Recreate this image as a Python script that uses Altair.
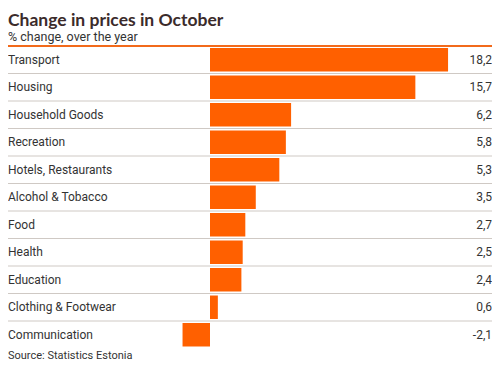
import altair as alt
import pandas as pd

title = "Change in prices in October"
subtitle = "% change, over the year"
source = "Source: Statistics Estonia"
categories = ["Transport", "Housing", "Household Goods", "Recreation",
              "Hotels, Restaurants", "Alcohol & Tobacco", "Food", "Health",
              "Education", "Clothing & Footwear", "Communication"]
values = [18.2, 15.7, 6.2, 5.8, 5.3, 3.5, 2.7, 2.5, 2.4, 0.6, -2.1]

df = pd.DataFrame({"category": categories, "value": values})
sep_df = pd.DataFrame({"category": categories[1:]})

STEP = 27.5
W, H = 484, STEP * len(categories)
TOP = 38
zero_px = 202
px_per_unit = 13.08
xdom = [-zero_px / px_per_unit, (W - zero_px) / px_per_unit]

ORANGE = "#ff6000"
TEXT = "#333333"
TITLE_C = "#3b2b2b"
FONT = "Roboto"

yscale = alt.Scale(domain=categories, paddingInner=0, paddingOuter=0)
xscale = alt.Scale(domain=xdom, nice=False)

base = alt.Chart(df)

seps = alt.Chart(sep_df).mark_rule(color="#cfc9c4", strokeWidth=1).encode(
    y=alt.Y("category:N", scale=yscale, axis=None, bandPosition=0),
    x=alt.value(0), x2=alt.value(W),
)

bars = base.mark_bar(size=23.5, color=ORANGE).encode(
    x=alt.X("value:Q", scale=xscale, axis=None),
    x2=alt.datum(0),
    y=alt.Y("category:N", scale=yscale, axis=None),
)

top_rule = alt.Chart(pd.DataFrame({"a": [0]})).mark_rule(
    color="#f26a1b", strokeWidth=2
).encode(x=alt.value(0), x2=alt.value(W), y=alt.value(0))

cat_labels = base.mark_text(align="left", baseline="middle", font=FONT,
                            fontSize=12, color=TEXT).encode(
    y=alt.Y("category:N", scale=yscale, axis=None),
    x=alt.value(0),
    text="category:N",
)

val_labels = base.transform_calculate(
    lbl="replace(replace(format(datum.value, '.1f'), '.', ','), '\u2212', '-')"
).mark_text(align="right", baseline="middle", font=FONT, fontSize=12,
            color=TEXT).encode(
    y=alt.Y("category:N", scale=yscale, axis=None),
    x=alt.value(W),
    text="lbl:N",
)

title_t = alt.Chart(pd.DataFrame({"t": [title]})).mark_text(
    align="left", baseline="alphabetic", font="Lato", fontSize=17.5,
    fontWeight="bold", color=TITLE_C
).encode(x=alt.value(0), y=alt.value(-20), text="t:N")

sub_t = alt.Chart(pd.DataFrame({"t": [subtitle]})).mark_text(
    align="left", baseline="alphabetic", font=FONT, fontSize=12.5, color=TEXT
).encode(x=alt.value(0), y=alt.value(-5), text="t:N")

src_t = alt.Chart(pd.DataFrame({"t": [source]})).mark_text(
    align="left", baseline="alphabetic", font=FONT, fontSize=11, color=TEXT
).encode(x=alt.value(0), y=alt.value(H + 10), text="t:N")

chart = alt.layer(seps, bars, top_rule, cat_labels, val_labels,
                  title_t, sub_t, src_t).properties(
    width=W, height=H,
    padding={"left": 0, "top": TOP, "right": 0, "bottom": 354 - TOP - H},
    autosize=alt.AutoSizeParams(type="none"),
).configure_view(stroke=None)

chart.save("out.html", embed_options={"renderer": "svg", "actions": False})
